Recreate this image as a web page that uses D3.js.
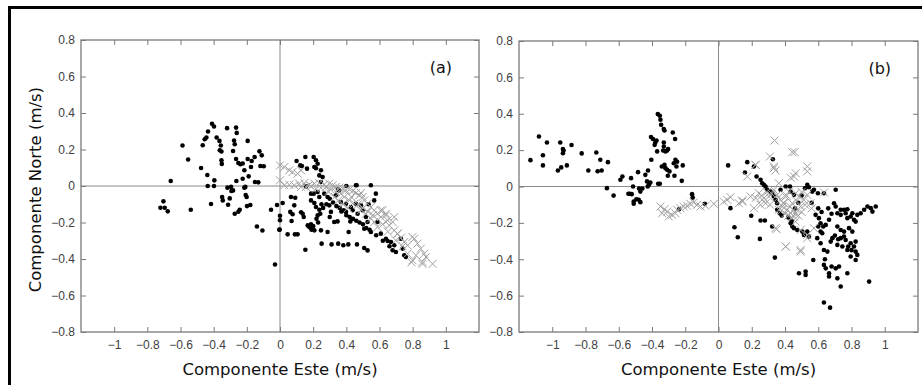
<!DOCTYPE html>
<html>
<head>
<meta charset="utf-8">
<script src="https://cdn.jsdelivr.net/npm/d3@7"></script>
<style>
  body { margin: 0; background: #fff; }
  svg { display: block; }
</style>
</head>
<body>
<div id="chart"></div>
<script>
// tick values and labels
var xTicks = [-1, -0.8, -0.6, -0.4, -0.2, 0, 0.2, 0.4, 0.6, 0.8, 1];
var yTicks = [-0.8, -0.6, -0.4, -0.2, 0, 0.2, 0.4, 0.6, 0.8];
var panelLabels = ["(a)", "(b)"];
var xTitle = "Componente Este (m/s)";
var yTitle = "Componente Norte (m/s)";

// panel (a): black dots [east, north]
var dotsA = [
  [-0.721,-0.119],[-0.703,-0.084],[-0.695,-0.119],[-0.677,-0.139],[-0.659,0.027],[-0.588,0.222],
  [-0.554,0.145],[-0.538,-0.130],[-0.476,0.099],[-0.466,0.223],[-0.454,0.256],[-0.444,0.266],
  [-0.434,0.299],[-0.438,0.060],[-0.436,0],[-0.416,-0.099],[-0.410,0.341],[-0.398,0.326],
  [-0.398,0],[-0.396,0.031],[-0.382,0.266],[-0.365,0.247],[-0.363,0.196],[-0.353,0.189],
  [-0.357,0.222],[-0.353,0.141],[-0.351,0.121],[-0.349,-0.060],[-0.345,-0.079],[-0.319,0.317],
  [-0.317,-0.009],[-0.313,-0.103],[-0.303,-0.068],[-0.293,-0.027],[-0.283,-0.024],[-0.283,0.192],
  [-0.277,0.249],[-0.273,0.229],[-0.273,-0.152],[-0.265,0.320],[-0.261,0.291],[-0.263,0.027],
  [-0.265,0.148],[-0.251,-0.141],[-0.243,-0.130],[-0.251,0.126],[-0.239,0.119],[-0.225,0.123],
  [-0.215,-0.009],[-0.207,-0.049],[-0.201,-0.060],[-0.195,0.247],[-0.195,0.148],[-0.199,-0.110],
  [-0.215,0.086],[-0.189,0.053],[-0.179,-0.104],[-0.175,0.104],[-0.171,0.137],[-0.153,0.159],
  [-0.151,0.022],[-0.139,-0.222],[-0.131,0.020],[-0.124,0.190],[-0.118,0.110],[-0.110,0.168],
  [-0.106,-0.244],[-0.098,0.108],[-0.225,0.040],[-0.209,-0.005],[-0.295,-0.005],[-0.054,-0.130],
  [-0.030,-0.430],[-0.018,-0.104],[-0.004,-0.240],
  [0,-0.163],[0,-0.188],[-0.002,-0.239],[0.016,-0.093],[0.046,-0.265],[0.086,-0.106],
  [0.090,-0.265],[0.106,-0.265],[0.066,-0.060],[0.092,-0.064],[0.062,-0.142],[0.076,-0.155],
  [0.070,-0.192],[0.100,0.137],[0.122,0.113],[0.132,0.110],[0.153,0.159],[0.203,0.159],
  [0.217,0.141],[0.227,0.122],[0.207,0.104],[0.217,0.097],[0.163,0.095],[0.157,-0.002],
  [0.127,-0.144],[0.137,-0.152],[0.143,-0.170],[0.153,-0.349],[0.167,-0.216],[0.177,-0.225],
  [0.183,-0.228],[0.187,-0.210],[0.207,-0.243],[0.247,-0.243],[0.251,-0.316],[0.287,-0.252],
  [0.311,-0.320],[0.351,-0.316],[0.382,-0.325],[0.412,-0.320],[0.464,-0.320],[0.508,-0.340],
  [0.528,-0.353],[0.187,-0.079],[0.207,-0.093],[0.217,-0.115],[0.237,-0.130],[0.243,-0.152],
  [0.227,-0.161],[0.247,0.022],[0.237,0.058],[0.257,0.049],[0.247,0.086],[0.187,-0.042],
  [0.203,-0.042],[0.227,-0.033],[0.237,-0.060],[0.267,-0.042],[0.287,-0.060],[0.297,-0.106],
  [0.307,-0.142],[0.327,-0.197],[0.347,-0.194],[0.367,-0.088],[0.337,-0.051],[0.357,-0.024],
  [0.384,-0.133],[0.398,-0.142],[0.424,-0.194],[0.414,-0.252],[0.488,-0.106],[0.458,0.004],
  [0.548,0.004],[0.578,-0.042],[0.568,-0.079],[0.528,-0.197],[0.508,-0.234],[0.548,-0.252],
  [0.608,-0.261],[0.588,-0.197],[0.639,-0.289],[0.649,-0.301],[0.669,-0.307],[0.689,-0.325],
  [0.679,-0.352],[0.729,-0.289],[0.739,-0.343],[0.749,-0.380],[0.759,-0.389],[0.699,-0.362],
  [0.428,-0.115],[0.438,-0.133],[0.468,-0.152],[0.498,-0.133],[0.518,-0.170],[0.458,-0.097],
  [0.398,-0.097],[0.462,0.004],[0.534,-0.100],
  [0.300,-0.070],[0.320,-0.090],[0.340,-0.110],[0.360,-0.120],[0.370,-0.140],[0.400,-0.160],
  [0.420,-0.170],[0.440,-0.180],[0.460,-0.190],[0.480,-0.200],[0.500,-0.210],[0.520,-0.230],
  [0.540,-0.240],[0.620,-0.300],[0.660,-0.330],[0.250,-0.100],[0.260,-0.120],[0.280,-0.100],
  [0.220,-0.180],[0.230,-0.200],[0.200,-0.220],[0.190,-0.240],[0.400,0.000],[0.350,-0.020],
  [0.580,-0.270],[0.300,-0.170]
];

// panel (a): grey crosses
var crossA = [
  [0,0.113],[0.026,0.104],[0.056,0.086],[0.076,0.077],[0.106,0.068],[0.127,0.086],[0,0.031],
  [0.026,0.004],[0.056,0.007],[0.086,0.004],[0.116,0.013],[0.147,0.016],[0.177,0.007],
  [0.207,0.013],[0.237,0.016],[0.267,0.009],[0.297,0.013],[0.317,0.004],[0.337,-0.005],
  [0.357,-0.009],[0.378,-0.015],[0.398,-0.024],[0.418,-0.020],[0.438,-0.027],[0.458,-0.038],
  [0.478,-0.051],[0.498,-0.060],[0.488,-0.038],[0.508,-0.079],[0.528,-0.097],[0.548,-0.115],
  [0.568,-0.133],[0.588,-0.152],[0.608,-0.170],[0.618,-0.133],[0.639,-0.161],[0.649,-0.188],
  [0.659,-0.216],[0.679,-0.197],[0.689,-0.243],[0.709,-0.261],[0.729,-0.283],[0.749,-0.307],
  [0.769,-0.325],[0.799,-0.279],[0.809,-0.289],[0.829,-0.316],[0.849,-0.343],[0.869,-0.371],
  [0.880,-0.389],[0.859,-0.416],[0.799,-0.407],[0.769,-0.371],[0.699,-0.298],[0.588,-0.225],
  [0.568,-0.197],[0.548,-0.179],[0.518,-0.152],[0.488,-0.133],[0.448,-0.097],[0.418,-0.079],
  [0.388,-0.060],[0.367,-0.042],[0.337,-0.033],[0.307,-0.020],[0.277,-0.005],[0.247,-0.009],
  [0.217,-0.015],[0.187,-0.002],[0.157,-0.005],[0.127,-0.005],[0.920,-0.427],[0.859,-0.427],
  [0.793,-0.418],[0.639,-0.152],[0.689,-0.170],[0.709,-0.262],[0.608,-0.134],
  [0.290,-0.030],[0.330,-0.060],[0.350,-0.080],[0.380,-0.100],[0.410,-0.120],[0.430,-0.060],
  [0.470,-0.100],[0.500,-0.120],[0.530,-0.140],[0.560,-0.160],[0.620,-0.210],[0.650,-0.250],
  [0.740,-0.330],[0.820,-0.380]
];

// panel (b): black dots
var dotsB = [
  [-1.131,0.145],[-1.080,0.275],[-1.056,0.172],[-1.056,0.116],[-1.032,0.242],[-0.966,0.088],
  [-0.952,0.242],[-0.946,0.105],[-0.936,0.206],[-0.936,0.183],[-0.932,0.198],[-0.912,0.116],
  [-0.884,0.228],[-0.823,0.182],[-0.783,0.088],[-0.735,0.187],[-0.727,0.084],[-0.711,0.147],
  [-0.703,0.088],[-0.665,0.134],[-0.671,-0.009],[-0.631,-0.050],[-0.590,0.037],[-0.578,0.055],
  [-0.526,0.046],[-0.542,-0.040],[-0.534,-0.040],[-0.522,-0.042],[-0.514,0],[-0.510,-0.083],
  [-0.510,-0.095],[-0.494,-0.070],[-0.480,-0.073],[-0.470,-0.086],[-0.484,0.079],[-0.478,-0.011],
  [-0.470,-0.028],[-0.458,-0.011],[-0.440,0.064],[-0.430,0.028],[-0.426,0],[-0.418,0.009],
  [-0.410,0.022],[-0.424,0.088],[-0.404,0.147],[-0.406,0.272],[-0.394,0.261],[-0.373,0.253],
  [-0.384,0.229],[-0.380,0.242],[-0.369,0.193],[-0.365,0.398],[-0.353,0.389],[-0.349,0.367],
  [-0.345,0.339],[-0.363,0.015],[-0.353,0.015],[-0.329,0.242],[-0.329,0.220],[-0.329,0.316],
  [-0.325,0.308],[-0.333,0.198],[-0.319,0.193],[-0.309,0.198],[-0.303,0.206],[-0.341,0.110],
  [-0.325,0.119],[-0.319,0.101],[-0.309,0.092],[-0.295,0.083],[-0.305,0.059],[-0.275,0.297],
  [-0.261,0.261],[-0.269,0.128],[-0.259,0.147],[-0.253,0.110],[-0.249,0.136],[-0.265,0.059],
  [-0.215,0.116],[-0.221,0.031],[-0.159,-0.042],[-0.155,-0.061],[-0.082,-0.095],[-0.237,-0.125],
  [0.058,0.116],[0.072,-0.119],[0.096,-0.224],[0.116,-0.279],[0.173,0.134],[0.159,0.077],
  [0.197,-0.161],[0.213,0.110],[0.253,-0.187],[0.327,0.150],[0.339,-0.391],[0.279,-0.187],
  [0.323,-0.220],[0.249,-0.288],
  [0.229,0.055],[0.253,0.037],[0.263,0.018],[0.273,0.009],[0.283,0],[0.293,-0.018],[0.313,-0.028],
  [0.323,-0.037],[0.333,-0.055],[0.343,-0.073],[0.353,-0.092],[0.353,-0.128],[0.369,-0.147],
  [0.404,0],[0.430,0],[0.373,-0.018],[0.434,-0.028],[0.454,-0.046],
  [0.434,-0.202],[0.444,-0.220],[0.454,-0.229],[0.474,-0.239],[0.504,-0.248],[0.514,-0.266],
  [0.534,-0.248],[0.544,-0.275],[0.534,0.009],[0.544,-0.004],[0.564,-0.028],[0.574,-0.018],
  [0.598,-0.037],[0.634,-0.037],[0.705,-0.018],
  [0.695,-0.092],[0.705,-0.110],[0.735,-0.128],[0.755,-0.128],[0.775,-0.125],[0.765,-0.147],
  [0.795,-0.165],[0.815,-0.183],[0.835,-0.156],[0.855,-0.147],[0.876,-0.128],[0.896,-0.110],
  [0.916,-0.119],[0.926,-0.138],[0.946,-0.110],[0.825,-0.193],[0.805,-0.147],[0.775,-0.174],
  [0.735,-0.156],[0.715,-0.147],
  [0.584,-0.156],[0.604,-0.174],[0.614,-0.202],[0.630,-0.220],[0.624,-0.257],[0.614,-0.248],
  [0.645,-0.211],[0.665,-0.183],[0.594,-0.284],[0.614,-0.312],[0.634,-0.349],[0.655,-0.358],
  [0.675,-0.303],[0.685,-0.284],[0.570,-0.404],
  [0.715,-0.220],[0.735,-0.239],[0.755,-0.275],[0.765,-0.294],[0.795,-0.312],[0.815,-0.330],
  [0.825,-0.358],[0.835,-0.376],[0.825,-0.404],[0.795,-0.385],[0.775,-0.349],[0.745,-0.330],
  [0.715,-0.321],[0.735,-0.284],[0.755,-0.248],[0.785,-0.229],[0.805,-0.248],[0.825,-0.303],
  [0.484,-0.477],[0.524,-0.468],[0.524,-0.486],[0.634,-0.431],[0.645,-0.450],[0.665,-0.477],
  [0.665,-0.495],[0.705,-0.450],[0.725,-0.440],[0.715,-0.505],[0.735,-0.550],[0.775,-0.477],
  [0.906,-0.523],[0.634,-0.638],[0.671,-0.666],
  [0.420,-0.170],[0.440,-0.190],[0.380,-0.160],[0.460,-0.120],[0.480,-0.090],[0.500,-0.050],
  [0.520,-0.010],[0.560,-0.090],[0.600,-0.120],[0.620,-0.140],[0.660,-0.120],[0.680,-0.150],
  [0.600,-0.220],[0.700,-0.270],[0.720,-0.290],[0.780,-0.330],[0.800,-0.350],[0.640,-0.400],
  [0.680,-0.440]
];

// panel (b): grey crosses
var crossB = [
  [-0.349,-0.110],[-0.339,-0.147],[-0.325,-0.125],[-0.309,-0.138],[-0.299,-0.165],[-0.279,-0.156],
  [-0.259,-0.147],[-0.249,-0.128],[-0.229,-0.119],[-0.209,-0.110],[-0.189,-0.106],[-0.169,-0.095],
  [-0.149,-0.088],[-0.129,-0.101],[-0.108,-0.110],[-0.078,-0.106],[-0.028,-0.095],[0.032,-0.083],
  [0.052,-0.073],[0.072,-0.059],[0.122,-0.092],[0.143,-0.077],[0.213,-0.119],[0.253,-0.101],
  [0.273,-0.064],
  [0.337,0.253],[0.309,0.165],[0.333,0.101],[0.343,0.088],[0.444,0.189],[0.458,0.189],
  [0.534,0.110],[0.434,0.048],[0.464,0.073],[0.223,0.119],[0.173,0.055],[0.363,0.018],
  [0.635,-0.033],[0.404,-0.330],[0.494,-0.358],[0.349,-0.235],[0.534,-0.266],[0.574,-0.229],
  [0.143,-0.083],[0.193,-0.055],[0.223,-0.064],[0.243,-0.037],[0.263,-0.073],[0.283,-0.092],
  [0.303,-0.055],[0.333,-0.018],[0.353,-0.046],[0.373,-0.073],[0.394,-0.092],[0.414,-0.128],
  [0.434,-0.147],[0.454,-0.165],[0.474,-0.128],[0.494,-0.110],[0.514,-0.073],[0.534,-0.046],
  [0.554,-0.092],[0.484,-0.055],[0.464,-0.037],[0.424,-0.028],[0.404,-0.055],[0.384,-0.110],
  [0.363,-0.128],[0.444,-0.092],[0.464,-0.193],[0.494,-0.239],[0.534,-0.284],[0.494,-0.349],
  [0.404,-0.330],[0.343,-0.229],[0.454,0.055],[0.534,0.083],[0.333,0.110],[0.223,0.119],
  [0.380,-0.130],[0.400,-0.150],[0.420,-0.160],[0.440,-0.170],[0.460,-0.150],[0.480,-0.160],
  [0.430,-0.110],[0.450,-0.130],[0.500,-0.140],[0.470,-0.080],[0.390,-0.090],[0.360,-0.060],
  [0.320,-0.040],[0.290,-0.030],[0.310,-0.100],[0.260,-0.050],[0.520,-0.100],[0.500,-0.030],
  [0.410,-0.050],[0.560,-0.120]
];

var w = 922, h = 385;
var svg = d3.select("#chart").append("svg")
  .attr("width", w).attr("height", h);

svg.append("rect").attr("width", w).attr("height", h).attr("fill", "#fff");

// outer black frame (only top and left visible)
svg.append("path")
  .attr("d", "M9.5," + (h + 5) + "V7.5H" + (w + 5))
  .attr("fill", "none").attr("stroke", "#000").attr("stroke-width", 3);

var panels = [
  { left: 81, right: 479, top: 40, bottom: 332, dots: dotsA, cross: crossA, label: panelLabels[0], yTitle: true },
  { left: 519, right: 918, top: 41, bottom: 332, dots: dotsB, cross: crossB, label: panelLabels[1], yTitle: false }
];

var axisGrey = "#7a7a7a";

panels.forEach(function(p){
  var x = d3.scaleLinear().domain([-1.2, 1.2]).range([p.left, p.right]);
  var y = d3.scaleLinear().domain([-0.8, 0.8]).range([p.bottom, p.top]);
  var g = svg.append("g");

  // zero lines
  g.append("line").attr("x1", x(0)).attr("x2", x(0)).attr("y1", p.top).attr("y2", p.bottom)
    .attr("stroke", "#8a8a8a").attr("stroke-width", 1);
  g.append("line").attr("x1", p.left).attr("x2", p.right).attr("y1", y(0)).attr("y2", y(0))
    .attr("stroke", "#8a8a8a").attr("stroke-width", 1);

  // axes: ticks inside on all four sides
  var tickStyle = function(sel){
    sel.select(".domain").remove();
    sel.selectAll(".tick line").attr("stroke", axisGrey);
    sel.selectAll(".tick text").attr("fill", "#404040")
      .style("font-family", "'Liberation Sans', Arial, sans-serif").style("font-size", "12px");
  };
  g.append("g").attr("transform", "translate(0," + p.bottom + ")")
    .call(d3.axisBottom(x).tickValues(xTicks).tickSizeInner(-5).tickSizeOuter(0).tickPadding(8)
      .tickFormat(d3.format("")))
    .call(tickStyle);
  g.append("g").attr("transform", "translate(0," + p.top + ")")
    .call(d3.axisTop(x).tickValues(xTicks).tickSizeInner(-5).tickSizeOuter(0).tickFormat(""))
    .call(tickStyle);
  g.append("g").attr("transform", "translate(" + p.left + ",0)")
    .call(d3.axisLeft(y).tickValues(yTicks).tickSizeInner(-5).tickSizeOuter(0).tickPadding(6)
      .tickFormat(d3.format("")))
    .call(tickStyle);
  g.append("g").attr("transform", "translate(" + p.right + ",0)")
    .call(d3.axisRight(y).tickValues(yTicks).tickSizeInner(-5).tickSizeOuter(0).tickFormat(""))
    .call(tickStyle);

  // plot box
  g.append("rect").attr("x", p.left).attr("y", p.top)
    .attr("width", p.right - p.left).attr("height", p.bottom - p.top)
    .attr("fill", "none").attr("stroke", axisGrey).attr("stroke-width", 1.3);

  // black dots
  g.selectAll("circle.dot").data(p.dots).enter().append("circle")
    .attr("class", "dot")
    .attr("cx", d => x(d[0])).attr("cy", d => y(d[1]))
    .attr("r", 2.3).attr("fill", "#000");

  // grey crosses
  var s = 4;
  g.selectAll("path.cross").data(p.cross).enter().append("path")
    .attr("class", "cross")
    .attr("d", function(d){
      var cx = x(d[0]), cy = y(d[1]);
      return "M" + (cx - s) + "," + (cy - s) + "L" + (cx + s) + "," + (cy + s) +
             "M" + (cx - s) + "," + (cy + s) + "L" + (cx + s) + "," + (cy - s);
    })
    .attr("stroke", "#a0a0a0").attr("stroke-width", 1).attr("fill", "none");

  // panel label
  g.append("text").attr("x", x(0.97)).attr("y", y(0.62))
    .attr("text-anchor", "middle")
    .style("font-family", "'DejaVu Sans', Verdana, sans-serif").style("font-size", "16px")
    .attr("fill", "#111").text(p.label);

  // x title
  g.append("text").attr("x", x(0)).attr("y", 375)
    .attr("text-anchor", "middle")
    .style("font-family", "'DejaVu Sans', Verdana, sans-serif").style("font-size", "16.5px")
    .attr("fill", "#111").text(xTitle);

  if (p.yTitle) {
    g.append("text").attr("transform", "translate(41," + y(-0.02) + ") rotate(-90)")
      .attr("text-anchor", "middle")
      .style("font-family", "'DejaVu Sans', Verdana, sans-serif").style("font-size", "16.5px")
      .attr("fill", "#111").text(yTitle);
  }
});
</script>
</body>
</html>
